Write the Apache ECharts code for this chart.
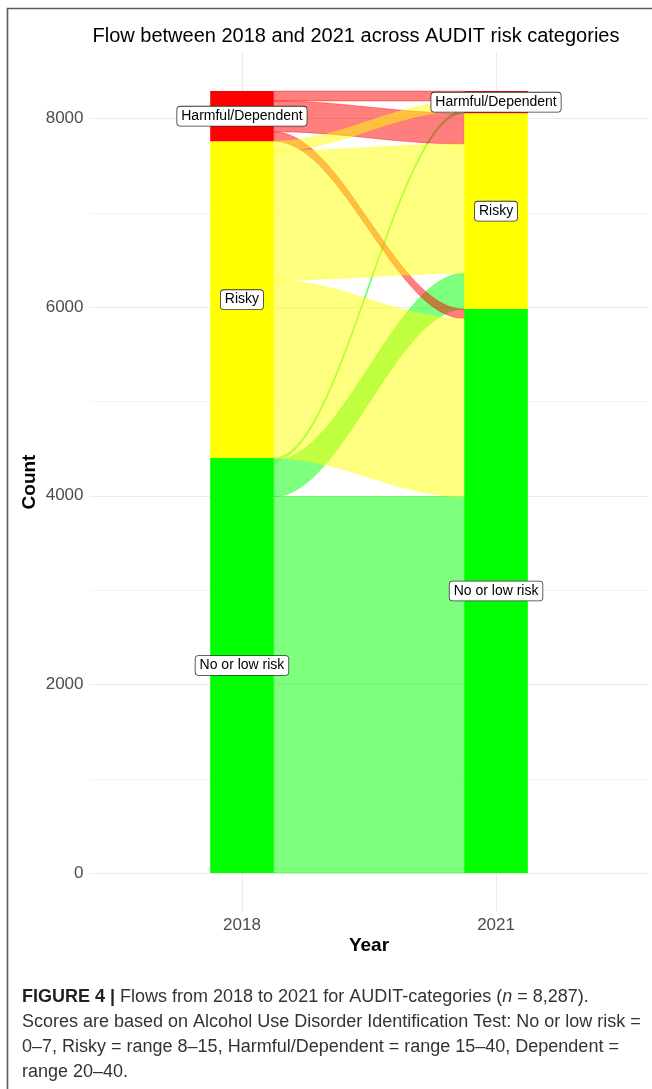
<!DOCTYPE html>
<html>
<head>
<meta charset="utf-8">
<script src="https://cdn.jsdelivr.net/npm/echarts@6/dist/echarts.min.js"></script>
<style>
html,body{margin:0;padding:0;background:#fff;}
#chart{width:652px;height:1089px;}
</style>
</head>
<body>
<div id="chart"></div>
<script>
// ---------------- data ----------------
const years = ['2018', '2021'];
const categories = ['No or low risk', 'Risky', 'Harmful/Dependent'];
// counts moving from each 2018 category to the 2021 categories [No or low risk, Risky, Harmful/Dependent]
const fromLow = [3990, 380, 27];
const fromRisky = [1886, 1370, 103];
const fromHarmful = [100, 327, 104];
const yTickValues = [0, 2000, 4000, 6000, 8000];
const yMinorValues = [1000, 3000, 5000, 7000];

// ---------------- styles ----------------
const catColors = ['#00FF00', '#FFFF00', '#FF0000'];
const flowFill = ['rgba(0,255,0,0.5)', 'rgba(255,255,0,0.5)', 'rgba(255,0,0,0.5)'];
const flowStroke = ['rgba(0,255,0,0.55)', 'rgba(255,255,0,0.55)', 'rgba(255,0,0,0.55)'];
const BAR_W = 0.25;
const FONT = '"Liberation Sans", Arial, Helvetica, sans-serif';
// drawing order of flow groups by origin category (low, harmful, risky)
const drawOrder = [0, 2, 1];

// ---------------- derived ----------------
const flowMatrix = [fromLow, fromRisky, fromHarmful];
const nCat = categories.length;
const tot1 = flowMatrix.map(r => r.reduce((a, b) => a + b, 0));
const tot2 = categories.map((_, j) => flowMatrix.reduce((a, r) => a + r[j], 0));
const total = tot1.reduce((a, b) => a + b, 0);
const base1 = [], base2 = [];
let acc = 0; tot1.forEach((t, i) => { base1[i] = acc; acc += t; });
acc = 0; tot2.forEach((t, j) => { base2[j] = acc; acc += t; });

const strataData = [];
categories.forEach((c, i) => {
  strataData.push([1, base1[i], base1[i] + tot1[i], i]);
  strataData.push([2, base2[i], base2[i] + tot2[i], i]);
});

const flowData = [];
drawOrder.forEach(i => {
  for (let j = 0; j < nCat; j++) {
    const v = flowMatrix[i][j];
    let a0 = base1[i];
    for (let m = 0; m < j; m++) a0 += flowMatrix[i][m];
    let b0 = base2[j];
    for (let k = 0; k < i; k++) b0 += flowMatrix[k][j];
    flowData.push([i, j, a0, a0 + v, b0, b0 + v]);
  }
});

const labelRows = [];
categories.forEach((c, i) => {
  labelRows.push([1, base1[i] + tot1[i] / 2, i]);
  labelRows.push([2, base2[i] + tot2[i] / 2, i]);
});

const gridData = [];
yTickValues.forEach(v => gridData.push([0, v, 1]));
yMinorValues.forEach(v => gridData.push([0, v, 0]));
years.forEach((y, k) => gridData.push([1, k + 1, 1]));

const pad = total * 0.05;

// ---------------- render helpers ----------------
function bez(p0, p1, p2, p3, t) {
  const u = 1 - t;
  return u * u * u * p0 + 3 * u * u * t * p1 + 3 * u * t * t * p2 + t * t * t * p3;
}
function curvePts(p, q, out) {
  const K = 0.36;
  const dx = q[0] - p[0];
  const n = 48;
  for (let s = 0; s <= n; s++) {
    const t = s / n;
    out.push([bez(p[0], p[0] + K * dx, q[0] - K * dx, q[0], t),
              bez(p[1], p[1], q[1], q[1], t)]);
  }
}
function renderFlow(params, api) {
  const i = api.value(0);
  const xa = 1 + BAR_W / 2, xb = 2 - BAR_W / 2;
  const pA0 = api.coord([xa, api.value(2)]);
  const pA1 = api.coord([xa, api.value(3)]);
  const pB0 = api.coord([xb, api.value(4)]);
  const pB1 = api.coord([xb, api.value(5)]);
  const pts = [];
  curvePts(pA0, pB0, pts);
  curvePts(pB1, pA1, pts);
  return {
    type: 'polygon',
    shape: { points: pts },
    style: { fill: flowFill[i], stroke: flowStroke[i], lineWidth: 0.7 }
  };
}
function renderStratum(params, api) {
  const x = api.value(0);
  const p0 = api.coord([x - BAR_W / 2, api.value(2)]);
  const p1 = api.coord([x + BAR_W / 2, api.value(1)]);
  return {
    type: 'rect',
    shape: { x: p0[0], y: p0[1], width: p1[0] - p0[0], height: p1[1] - p0[1] },
    style: { fill: catColors[api.value(3)] }
  };
}
function renderGrid(params, api) {
  const cs = params.coordSys;
  const orient = api.value(0), v = api.value(1), major = api.value(2);
  let shape;
  if (orient === 0) {
    const y = Math.round(api.coord([1, v])[1]) + 0.5;
    shape = { x1: cs.x, y1: y, x2: cs.x + cs.width, y2: y };
  } else {
    const x = Math.round(api.coord([v, 0])[0]) + 0.5;
    shape = { x1: x, y1: cs.y, x2: x, y2: cs.y + cs.height };
  }
  return {
    type: 'line',
    shape: shape,
    style: { stroke: major ? '#EBEBEB' : '#F4F4F4', lineWidth: 1 }
  };
}
function renderLabel(params, api) {
  const p = api.coord([api.value(0), api.value(1)]);
  return {
    type: 'text',
    x: p[0], y: p[1],
    z2: 100,
    style: {
      text: categories[api.value(2)],
      font: '14px ' + FONT,
      fill: '#000',
      align: 'center',
      verticalAlign: 'middle',
      backgroundColor: '#fff',
      borderColor: '#333',
      borderWidth: 0.8,
      borderRadius: 3,
      padding: [2, 4, 2, 4],
      lineHeight: 15
    }
  };
}

const chart = echarts.init(document.getElementById('chart'), null, { renderer: 'canvas' });
chart.setOption({
  animation: false,
  backgroundColor: '#ffffff',
  textStyle: { fontFamily: FONT },
  grid: { left: 89.5, right: 3.5, top: 52, bottom: 177, containLabel: false },
  xAxis: {
    type: 'value',
    min: 0.4,
    max: 2.6,
    name: 'Year',
    nameLocation: 'middle',
    nameGap: 24,
    nameMoveOverlap: false,
    nameTextStyle: { fontSize: 19, fontWeight: 'bold', color: '#000', fontFamily: FONT },
    axisLine: { show: false },
    axisTick: { show: false },
    splitLine: { show: false },
    axisLabel: {
      customValues: years.map((y, k) => k + 1),
      formatter: v => (Math.abs(v - Math.round(v)) < 1e-6 && years[Math.round(v) - 1]) || '',
      fontSize: 17,
      color: '#4D4D4D',
      margin: 5,
      fontFamily: FONT
    }
  },
  yAxis: {
    type: 'value',
    min: -pad,
    max: total + pad,
    name: 'Count',
    nameLocation: 'middle',
    nameRotate: 90,
    nameGap: 50,
    nameMoveOverlap: false,
    nameTextStyle: { fontSize: 19, fontWeight: 'bold', color: '#000', fontFamily: FONT },
    axisLine: { show: false },
    axisTick: { show: false },
    splitLine: { show: false },
    axisLabel: {
      customValues: yTickValues,
      formatter: v => (yTickValues.indexOf(v) >= 0 ? String(v) : ''),
      fontSize: 17,
      color: '#4D4D4D',
      margin: 6,
      fontFamily: FONT
    }
  },
  series: [
    {
      type: 'custom', name: 'grid', silent: true, z: 1,
      renderItem: renderGrid, data: gridData
    },
    {
      type: 'custom', name: 'flows', silent: true, z: 2,
      renderItem: renderFlow, data: flowData
    },
    {
      type: 'custom', name: 'strata', silent: true, z: 3,
      renderItem: renderStratum, data: strataData
    },
    {
      type: 'custom', name: 'labels', silent: true, z: 5,
      renderItem: renderLabel, data: labelRows
    }
  ],
  graphic: [
    {
      type: 'polyline', silent: true, z: 10,
      shape: { points: [[7.5, 1089], [7.5, 8.5], [652, 8.5]] },
      style: { stroke: '#5a5a5a', lineWidth: 1.6, fill: null }
    },
    {
      type: 'text', silent: true, x: 356, y: 36,
      style: {
        text: 'Flow between 2018 and 2021 across AUDIT risk categories',
        font: '20px ' + FONT, fill: '#000', textAlign: 'center', textVerticalAlign: 'middle'
      }
    },
    {
      type: 'text', silent: true, x: 22, y: 997,
      style: {
        text: '{b|FIGURE 4 |} Flows from 2018 to 2021 for AUDIT-categories ({i|n} = 8,287).',
        font: '18px ' + FONT, fill: '#333', textVerticalAlign: 'middle',
        rich: {
          b: { fontWeight: 'bold', fontSize: 18, fill: '#231f20', fontFamily: FONT },
          i: { fontStyle: 'italic', fontSize: 18, fill: '#333', fontFamily: FONT }
        }
      }
    },
    {
      type: 'text', silent: true, x: 22, y: 1022,
      style: {
        text: 'Scores are based on Alcohol Use Disorder Identification Test: No or low risk =',
        font: '18px ' + FONT, fill: '#333', textVerticalAlign: 'middle'
      }
    },
    {
      type: 'text', silent: true, x: 22, y: 1047,
      style: {
        text: '0–7, Risky = range 8–15, Harmful/Dependent = range 15–40, Dependent =',
        font: '18px ' + FONT, fill: '#333', textVerticalAlign: 'middle'
      }
    },
    {
      type: 'text', silent: true, x: 22, y: 1072,
      style: {
        text: 'range 20–40.',
        font: '18px ' + FONT, fill: '#333', textVerticalAlign: 'middle'
      }
    }
  ]
});
</script>
</body>
</html>
